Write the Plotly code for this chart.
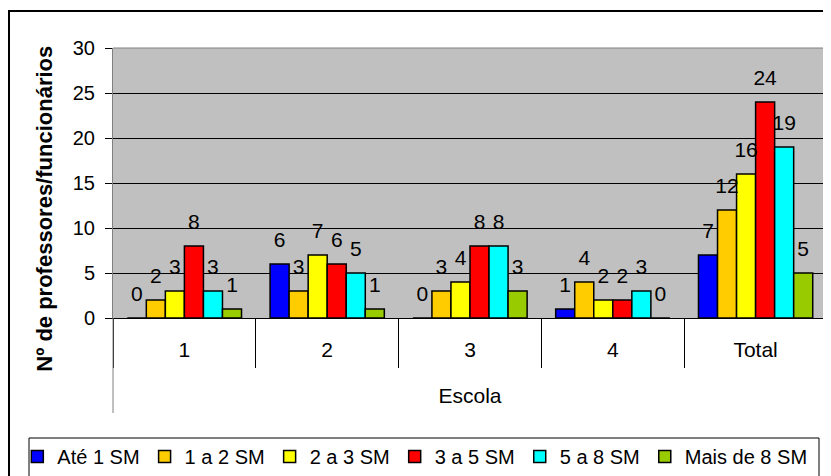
import plotly.graph_objects as go

categories = ["1", "2", "3", "4", "Total"]
series_names = ["Até 1 SM", "1 a 2 SM", "2 a 3 SM", "3 a 5 SM", "5 a 8 SM", "Mais de 8 SM"]
ate_1 = [0, 6, 0, 1, 7]
de_1_a_2 = [2, 3, 3, 4, 12]
de_2_a_3 = [3, 7, 4, 2, 16]
de_3_a_5 = [8, 6, 8, 2, 24]
de_5_a_8 = [3, 5, 8, 3, 19]
mais_de_8 = [1, 1, 3, 0, 5]
y_ticks = [0, 5, 10, 15, 20, 25, 30]

values = [ate_1, de_1_a_2, de_2_a_3, de_3_a_5, de_5_a_8, mais_de_8]
colors = ["#0000FF", "#FFCC00", "#FFFF00", "#FF0000", "#00FFFF", "#99CC00"]

FONT = "Liberation Sans, Arial, sans-serif"

fig = go.Figure()
for i, (name, vals, col) in enumerate(zip(series_names, values, colors)):
    fig.add_trace(go.Bar(
        x=categories, y=vals, name=name, offsetgroup=str(i),
        marker=dict(color=col, line=dict(color="#000000", width=1.5)),
        hoverinfo="skip",
    ))
for i, (name, vals) in enumerate(zip(series_names, values)):
    fig.add_trace(go.Scatter(
        x=categories, y=vals, mode="markers+text", offsetgroup=str(i),
        text=[str(v) for v in vals], textposition="top center",
        textfont=dict(family=FONT, size=21, color="#000000"),
        marker=dict(size=17, opacity=0), showlegend=False,
        hoverinfo="skip", cliponaxis=False,
    ))

fig.update_layout(
    width=823, height=468,
    margin=dict(l=105, r=4, t=40, b=158, autoexpand=False),
    paper_bgcolor="#FFFFFF", plot_bgcolor="#C0C0C0",
    barmode="group", bargap=0.2, bargroupgap=0,
    scattermode="group", scattergap=0.2,
    font=dict(family=FONT, size=20, color="#000000"),
    showlegend=True,
    legend=dict(
        orientation="h", x=-0.134, xanchor="left", y=-0.441, yanchor="top",
        font=dict(family=FONT, size=20, color="#000000"),
        bgcolor="rgba(0,0,0,0)", borderwidth=0, itemwidth=30,
        traceorder="normal",
    ),
    xaxis=dict(
        type="category", categoryorder="array", categoryarray=categories,
        automargin=False,
        showline=True, linecolor="#000000", linewidth=1,
        ticks="outside", tickson="boundaries", ticklen=49, tickcolor="#000000", tickwidth=1,
        ticklabelstandoff=13,
        tickfont=dict(family=FONT, size=21, color="#000000"),
        title=dict(text="Escola", font=dict(family=FONT, size=21, color="#000000"), standoff=28),
        showgrid=False, zeroline=False,
    ),
    yaxis=dict(
        range=[0, 30], tickvals=y_ticks, ticktext=[str(t) for t in y_ticks],
        automargin=False,
        showline=True, mirror=True, linecolor="#808080", linewidth=1,
        ticks="outside", ticklen=7, tickcolor="#000000", tickwidth=1,
        ticklabelstandoff=6,
        tickfont=dict(family=FONT, size=20, color="#000000"),
        showgrid=True, gridcolor="#000000", gridwidth=1, zeroline=False,
    ),
    annotations=[dict(
        text="<b>Nº de professores/funcionários</b>", textangle=-90,
        xref="paper", x=0, xshift=-68, xanchor="center",
        yref="paper", y=0.405, yanchor="middle", showarrow=False,
        font=dict(family=FONT, size=22, color="#000000"),
    )],
    shapes=[
        # outer chart frame
        dict(type="rect", xref="paper", yref="paper", xsizemode="pixel", ysizemode="pixel",
             xanchor=0, yanchor=1, x0=-104, x1=760, y0=37, y1=-500,
             line=dict(color="#000000", width=2), fillcolor="rgba(0,0,0,0)", layer="below"),
        # top border of plot area
        dict(type="line", xref="paper", yref="paper", x0=0, x1=1, y0=1, y1=1,
             line=dict(color="#808080", width=1), layer="above"),
        # category-axis outer lines extending below
        dict(type="line", xref="paper", yref="paper", ysizemode="pixel", yanchor=0,
             x0=0, x1=0, y0=0, y1=-95, line=dict(color="#808080", width=1)),
        dict(type="line", xref="paper", yref="paper", ysizemode="pixel", yanchor=0,
             x0=1, x1=1, y0=0, y1=-95, line=dict(color="#808080", width=1)),
        # legend frame
        dict(type="rect", xref="paper", yref="paper", xsizemode="pixel", ysizemode="pixel",
             xanchor=0, yanchor=0, x0=-84, x1=706, y0=-120, y1=-200,
             line=dict(color="#000000", width=1), fillcolor="rgba(0,0,0,0)"),
    ],
)

fig.write_html("out.html")
